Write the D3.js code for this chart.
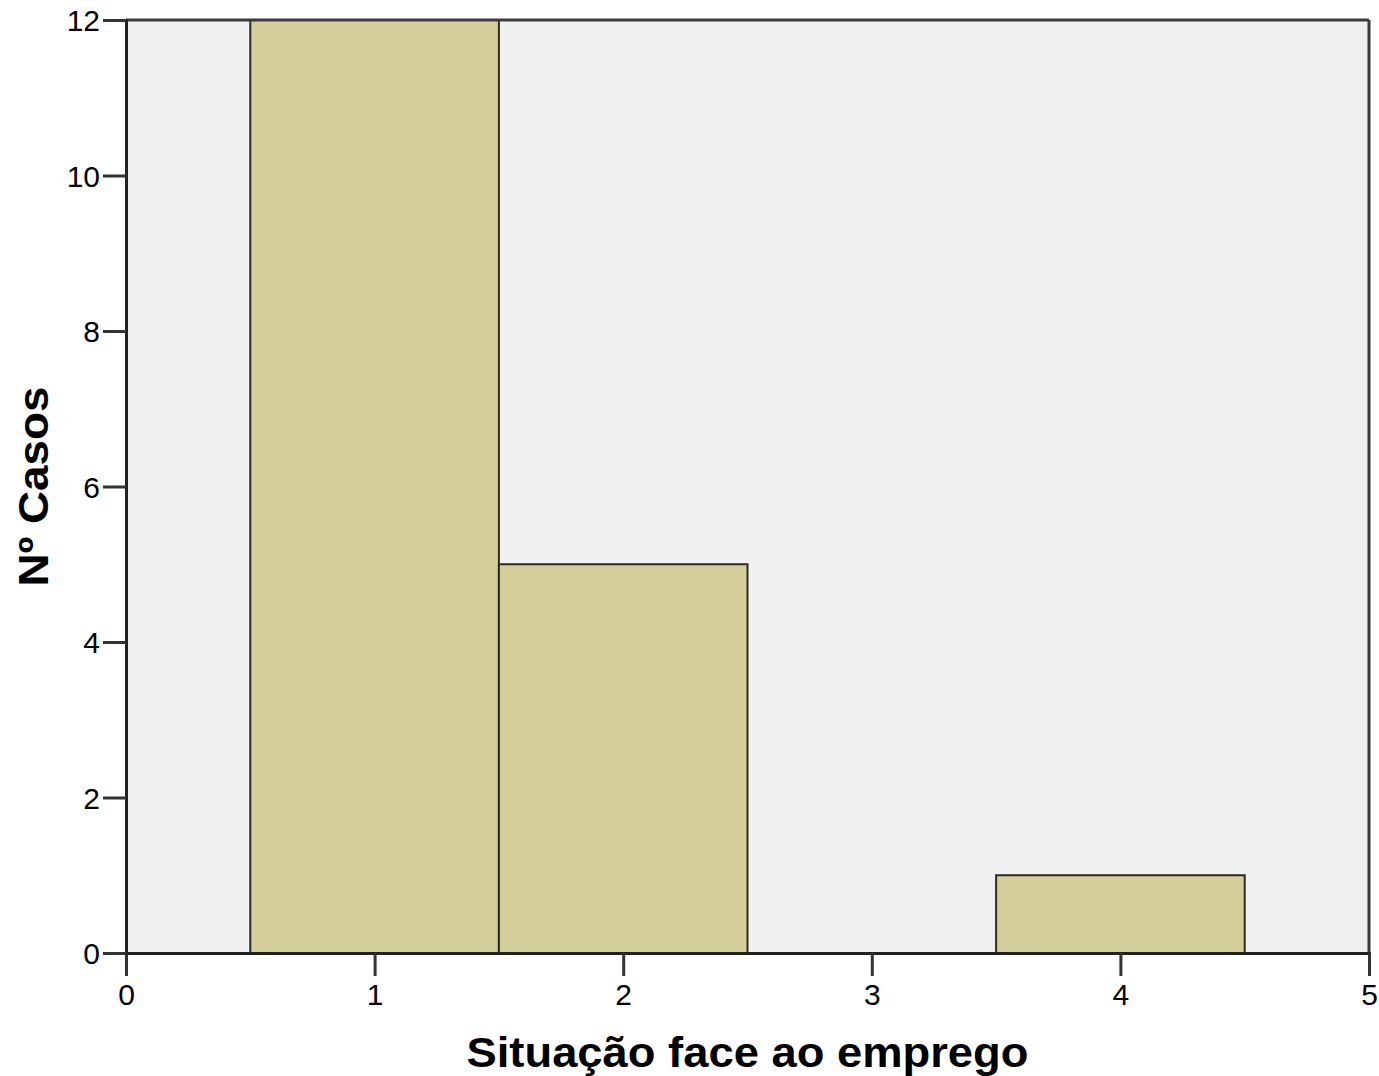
<!DOCTYPE html>
<html>
<head>
<meta charset="utf-8">
<script src="https://cdn.jsdelivr.net/npm/d3@7"></script>
<style>
    body { margin: 0; background: #fff; }
    text { font-family: Arial, "Liberation Sans", sans-serif; }
</style>
</head>
<body>
<script>
// Values
var categories = [1, 2, 3, 4];
var counts = [12, 5, 0, 1];
var xTicks = [0, 1, 2, 3, 4, 5];
var yTicks = [0, 2, 4, 6, 8, 10, 12];
var xTitle = "Situação face ao emprego";
var yTitle = "Nº Casos";

var margin = {top: 20, right: 10, bottom: 123, left: 126},
    width = 1379 - margin.left - margin.right,
    height = 1076 - margin.top - margin.bottom;

var svg = d3.select("body").append("svg")
    .attr("width", 1379)
    .attr("height", 1076)
    .append("g")
    .attr("transform", "translate(" + margin.left + "," + margin.top + ")");

var xScale = d3.scaleLinear().domain([0, 5]).range([0, width]);
var yScale = d3.scaleLinear().domain([0, 12]).range([height, 0]);

// plot background
svg.append("rect")
    .attr("width", width)
    .attr("height", height)
    .attr("fill", "#f0f0f0");

// bars (one unit wide, centred on the category)
var data = categories.map(function (c, i) { return {key: c, value: counts[i]}; });
svg.selectAll("rect.bar")
    .data(data.filter(function (d) { return d.value > 0; }))
    .enter()
    .append("rect")
    .attr("class", "bar")
    .attr("x", function (d) { return xScale(d.key - 0.5); })
    .attr("y", function (d) { return yScale(d.value); })
    .attr("width", function (d) { return xScale(d.key + 0.5) - xScale(d.key - 0.5); })
    .attr("height", function (d) { return height - yScale(d.value); })
    .attr("fill", "#d3ce9a")
    .attr("stroke", "#2b2b20")
    .attr("stroke-width", 2);

// frame top and right
svg.append("line")
    .attr("x1", 0).attr("x2", width).attr("y1", 0).attr("y2", 0)
    .attr("stroke", "#3c3c3c").attr("stroke-width", 3);
svg.append("line")
    .attr("x1", width).attr("x2", width).attr("y1", 0).attr("y2", height)
    .attr("stroke", "#3c3c3c").attr("stroke-width", 3);

var xAxis = d3.axisBottom(xScale).tickValues(xTicks).tickSize(23)
    .tickPadding(6).tickFormat(d3.format("d"));
var yAxis = d3.axisLeft(yScale).tickValues(yTicks).tickSize(23)
    .tickPadding(3).tickFormat(d3.format("d"));

var gx = svg.append("g")
    .attr("transform", "translate(0," + height + ")")
    .call(xAxis);
var gy = svg.append("g").call(yAxis);

[gx, gy].forEach(function (g) {
    g.select(".domain").attr("stroke", "#222").attr("stroke-width", 3);
    g.selectAll(".tick line").attr("stroke", "#333").attr("stroke-width", 3);
    g.selectAll(".tick text")
        .attr("fill", "#000")
        .attr("font-size", "30px")
        .attr("font-family", "Arial, 'Liberation Sans', sans-serif");
});
gx.selectAll(".tick text").attr("dy", "0.75em");
gy.selectAll(".tick text").attr("dy", "0.35em");

// axis titles
svg.append("text")
    .attr("x", width / 2)
    .attr("y", height + 114)
    .attr("text-anchor", "middle")
    .attr("font-size", "42px")
    .attr("font-weight", "bold")
    .attr("textLength", 562)
    .attr("lengthAdjust", "spacingAndGlyphs")
    .text(xTitle);

svg.append("text")
    .attr("transform", "rotate(-90)")
    .attr("x", -height / 2)
    .attr("y", -78)
    .attr("text-anchor", "middle")
    .attr("font-size", "42px")
    .attr("font-weight", "bold")
    .attr("textLength", 200)
    .attr("lengthAdjust", "spacingAndGlyphs")
    .text(yTitle);
</script>
</body>
</html>
